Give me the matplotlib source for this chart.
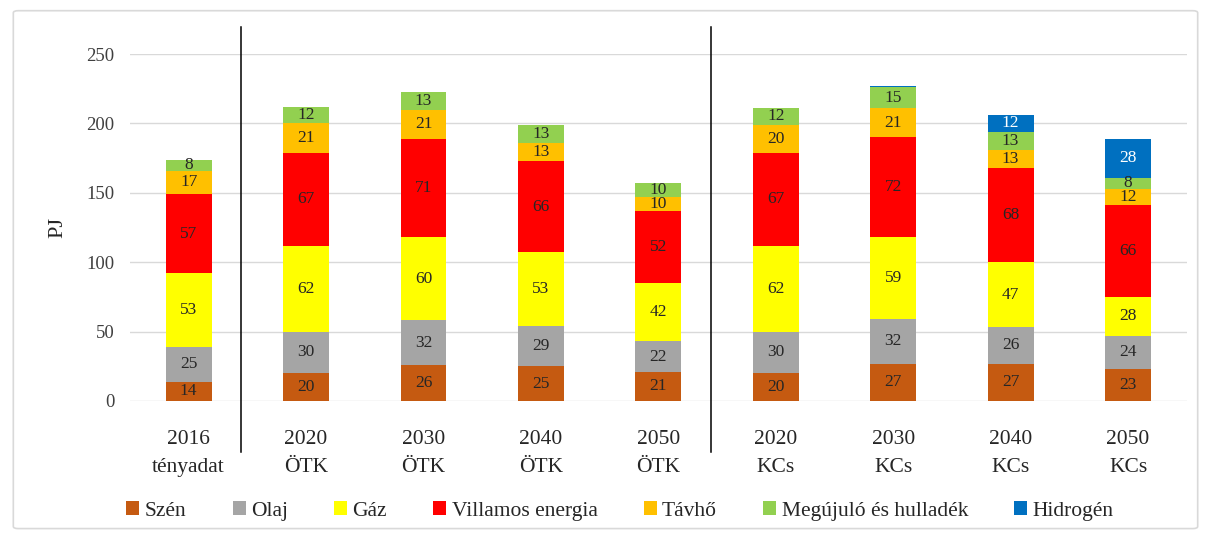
"""
Stacked energy demand bars (PJ)
"""

import matplotlib.pyplot as plt
import numpy as np
from matplotlib.patches import FancyBboxPatch

# data
categories = ["2016\ntényadat", "2020\nÖTK", "2030\nÖTK", "2040\nÖTK", "2050\nÖTK",
              "2020\nKCs", "2030\nKCs", "2040\nKCs", "2050\nKCs"]
series_names = ["Szén", "Olaj", "Gáz", "Villamos energia", "Távhő",
                "Megújuló és hulladék", "Hidrogén"]
szen = [14, 20, 26, 25, 21, 20, 27, 27, 23]
olaj = [25, 30, 32, 29, 22, 30, 32, 26, 24]
gaz = [53, 62, 60, 53, 42, 62, 59, 47, 28]
villamos = [57, 67, 71, 66, 52, 67, 72, 68, 66]
tavho = [17, 21, 21, 13, 10, 20, 21, 13, 12]
megujulo = [8, 12, 13, 13, 10, 12, 15, 13, 8]
hidrogen = [0, 0, 0, 0, 0, 0, 0.8, 12, 28]
colors = ["#C55A11", "#A5A5A5", "#FFFF00", "#FF0000", "#FFC000", "#92D050", "#0070C0"]
label_colors = ["#262626"] * 6 + ["white"]

if __name__ == "__main__":
    plt.rcParams['font.family'] = ['Liberation Serif', 'DejaVu Serif']
    values = [szen, olaj, gaz, villamos, tavho, megujulo, hidrogen]
    xs = np.arange(len(categories))

    fig = plt.figure(figsize=(12.11, 5.35), dpi=100)
    # outer frame like the office chart area
    fig.patches.append(FancyBboxPatch((0.011, 0.012), 0.978, 0.968, boxstyle="round,pad=0,rounding_size=0.004",
                                      transform=fig.transFigure, fill=False, edgecolor="#d9d9d9", linewidth=1.2))
    ax = fig.add_axes([0.1073, 0.2505, 0.8727, 0.6485])

    bottom = np.zeros(len(categories))
    for name, vals, col, lcol in zip(series_names, values, colors, label_colors):
        vals = np.array(vals, dtype=float)
        ax.bar(xs, vals, 0.39, bottom=bottom, color=col, label=name, zorder=3)
        for x, b, v in zip(xs, bottom, vals):
            if v >= 1:
                ax.text(x, b + v / 2, f"{v:.0f}", ha="center", va="center", fontsize=12.5, color=lcol, zorder=4)
        bottom += vals

    # separators between groups
    for sx in [0.445, 4.445]:
        ax.plot([sx, sx], [-37, 269.5], color="black", linewidth=1.1, clip_on=False, zorder=5)

    ax.set_xlim(-0.5, 8.5)
    ax.set_ylim(0, 250)
    ax.set_yticks(np.arange(0, 251, 50))
    ax.yaxis.grid(True, color="#d9d9d9", linewidth=1)
    ax.set_axisbelow(True)
    for s in ax.spines.values():
        s.set_visible(False)
    ax.tick_params(axis="both", length=0)
    ax.tick_params(axis="y", labelsize=13.5, colors="#404040", pad=11)
    ax.set_xticks(xs)
    ax.set_xticklabels(categories, fontsize=15.5, color="#262626", linespacing=1.65)
    ax.tick_params(axis="x", pad=21)
    ax.set_ylabel("PJ", fontsize=16, color="#262626", labelpad=14)

    fig.legend(loc="center", bbox_to_anchor=(0.512, 0.045), ncol=7, frameon=False, fontsize=15.5,
               handlelength=0.6, handleheight=0.6, handletextpad=0.25, columnspacing=2.15,
               labelcolor="#262626")

    plt.savefig("out.png", dpi=100)
